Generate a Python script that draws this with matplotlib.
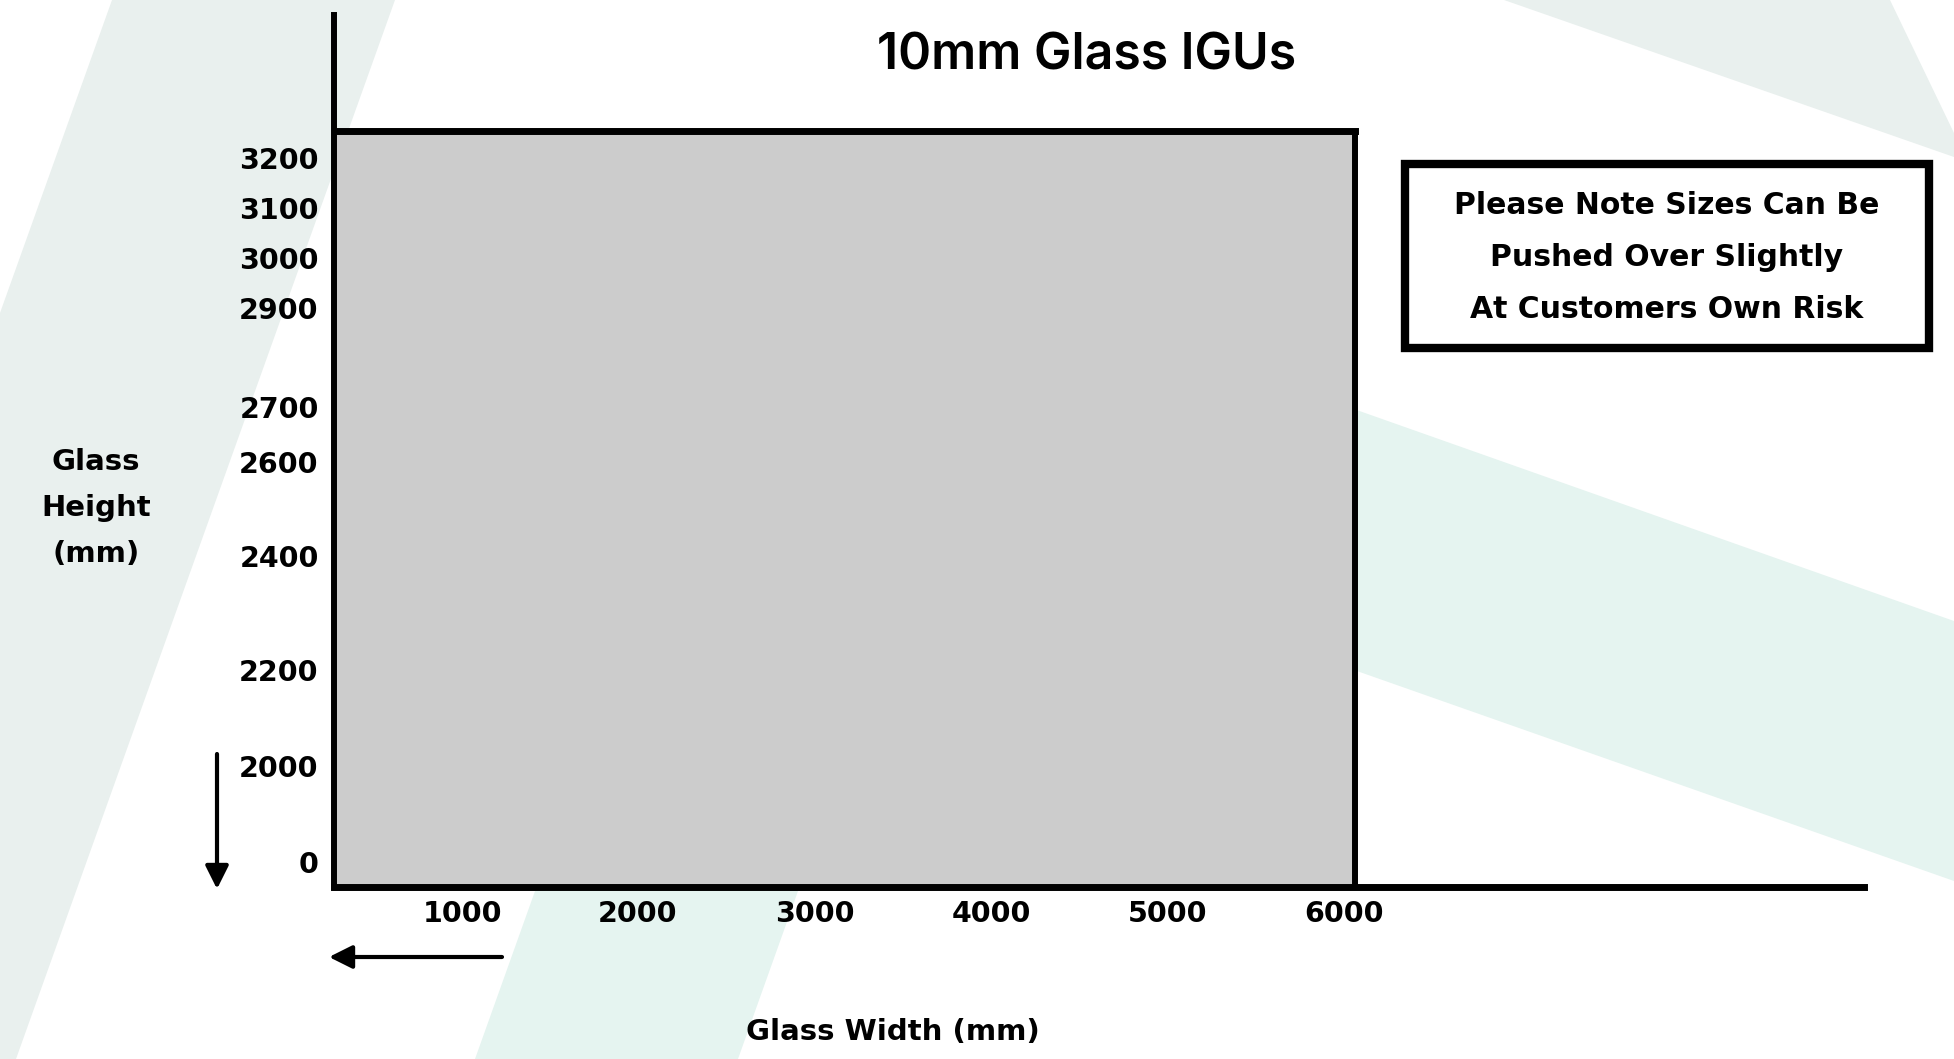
import numpy as np
import matplotlib
matplotlib.use('Agg')
import matplotlib.pyplot as plt
from matplotlib.patches import Rectangle, Polygon
from matplotlib.transforms import ScaledTranslation

# data
title = '10mm Glass IGUs'
width_ticks = [1000, 2000, 3000, 4000, 5000, 6000]
height_ticks = [0, 2000, 2200, 2400, 2600, 2700, 2900, 3000, 3100, 3200]
max_width = 6000
max_height = 3250
x_label = 'Glass Width (mm)'
y_label = 'Glass\nHeight\n(mm)'
note_lines = ['Please Note Sizes Can Be', 'Pushed Over Slightly', 'At Customers Own Risk']

# layout: picture pixels (1954x1059), the axis in the original is hand drawn, not linear
W, H = 1954, 1059
x_mm = [0, 1000, 2000, 3000, 4000, 5000, 6000, 9000]
x_px = [334, 462, 638, 815, 991, 1168, 1355, 1884]
y_mm = [0, 2000, 2200, 2400, 2600, 2700, 2900, 3000, 3100, 3200, 3250, 3500]
y_px = [887, 766, 670, 556, 462, 407, 308, 258, 208, 158, 131, 6]
y_up = [H - p for p in y_px]


def fx(v):
    return np.interp(v, x_mm, x_px)


def fx_inv(p):
    return np.interp(p, x_px, x_mm)


def fy(v):
    return np.interp(v, y_mm, y_up)


def fy_inv(p):
    return np.interp(p, y_up, y_mm)


bold = ['DejaVu Sans']
fig = plt.figure(figsize=(W / 100, H / 100), dpi=100)

# background bands
bg = fig.add_axes([0, 0, 1, 1])
bg.set_xlim(0, W)
bg.set_ylim(H, 0)
bg.axis('off')
grey_band = '#e9f0ee'
teal_band = '#e5f4f0'
bg.add_patch(Polygon([(112, 0), (395, 0), (16, H), (-267, H)], color=grey_band, lw=0))
bg.add_patch(Polygon([(1504, 0), (1890, 0), (W, 133), (W, 157)], color=grey_band, lw=0))
bg.add_patch(Polygon([(475, H), (738, H), (902, 600), (639, 600)], color=teal_band, lw=0))
bg.add_patch(Polygon([(1300, 390), (W, 621), (W, 881), (1300, 651)], color=teal_band, lw=0))

# arrows
arrow = dict(arrowstyle='-|>,head_length=1.4,head_width=0.7', mutation_scale=10,
             lw=3, color='black', shrinkA=0, shrinkB=0)
bg.annotate('', xy=(217, 889), xytext=(217, 754), arrowprops=arrow)
bg.annotate('', xy=(329, 957), xytext=(502, 957), arrowprops=arrow)

# note box
bg.add_patch(Rectangle((1405, 164), 524, 184, facecolor='white', edgecolor='black', lw=6))
for i, line in enumerate(note_lines):
    bg.text(1667, 205 + 52 * i, line, ha='center', va='center', fontsize=21.5,
            family=bold, weight='bold')

# main chart
ax = fig.add_axes([334 / W, (H - 887) / H, (1864 - 334) / W, (887 - 15) / H])
ax.patch.set_alpha(0)
ax.set_xscale('function', functions=(fx, fx_inv))
ax.set_yscale('function', functions=(fy, fy_inv))
ax.set_xlim(0, fx_inv(1864))
ax.set_ylim(0, fy_inv(H - 15))

ax.add_patch(Rectangle((0, 0), max_width, max_height, facecolor='#cccccc', lw=0, zorder=1))
ax.plot([0, max_width], [max_height, max_height], color='black', lw=5,
        solid_capstyle='projecting', zorder=2)
ax.plot([max_width, max_width], [0, max_height], color='black', lw=4.3,
        solid_capstyle='butt', zorder=2)

for s in ['top', 'right']:
    ax.spines[s].set_visible(False)
ax.spines['left'].set_linewidth(4.3)
ax.spines['bottom'].set_linewidth(5)
ax.spines['left'].set_zorder(3)
ax.spines['bottom'].set_zorder(3)

ax.set_xticks(width_ticks, labels=[str(v) for v in width_ticks])
ax.set_yticks(height_ticks, labels=[str(v) for v in height_ticks])
ax.tick_params(length=0)
ax.tick_params(axis='x', pad=9)
ax.tick_params(axis='y', pad=11)
for lab in ax.get_xticklabels() + ax.get_yticklabels():
    lab.set_fontsize(20.5)
    lab.set_fontweight('bold')
    lab.set_family(bold)

# the 0 label sits a little above the axis line, the 6000 label a little left of the edge
zero = ax.yaxis.get_major_ticks()[0].label1
zero.set_transform(zero.get_transform() + ScaledTranslation(0, 0.25, fig.dpi_scale_trans))
last = ax.xaxis.get_major_ticks()[-1].label1
last.set_transform(last.get_transform() + ScaledTranslation(-0.11, 0, fig.dpi_scale_trans))

fig.text(1087 / W, 1 - 56 / H, title, ha='center', va='center', fontsize=36,
         family=['Inter', 'DejaVu Sans'], weight='semibold')
fig.text(893 / W, 1 - 1032 / H, x_label, ha='center', va='center', fontsize=21,
         family=bold, weight='bold')
fig.text(96 / W, 1 - 508 / H, y_label, ha='center', va='center', fontsize=21,
         family=bold, weight='bold', linespacing=1.81)

fig.savefig('out.png', dpi=100)
